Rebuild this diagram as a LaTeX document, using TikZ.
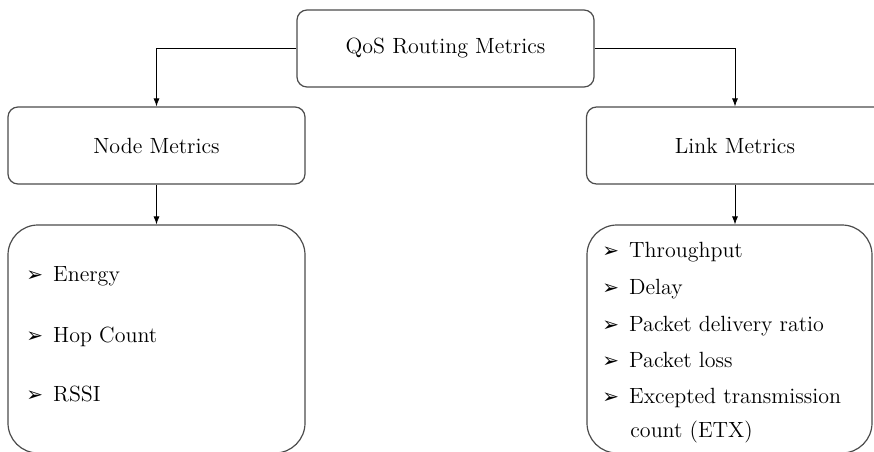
\documentclass[tikz,border=0pt]{standalone}
\usepackage{fontspec}
\usetikzlibrary{arrows.meta,positioning}
\newfontfamily\dingfont{DejaVu Sans}
\newcommand{\itemmark}{{\dingfont\fontsize{10}{12}\selectfont ➢}\hspace{5pt}}

\begin{document}
\begin{tikzpicture}[x=0.5pt,y=-0.5pt,font=\fontsize{11}{13}\selectfont,
    box/.style={draw=black!70,line width=0.6pt,rounded corners=5pt,
      minimum width=148.5pt,minimum height=38.5pt,inner sep=0pt},
    listbox/.style={draw=black!70,line width=0.6pt,rounded corners=15pt,
      minimum height=114pt,inner sep=0pt},
    item/.style={anchor=base west,inner sep=0pt},
    conn/.style={-{Latex[length=4pt,width=3pt]},line width=0.4pt}]
    \useasboundingbox (0,0) rectangle (874,451);
    % upper level
    \node[box] (qos) at (445.5,48.5) {QoS Routing Metrics};
    \node[box] (nm) at (156.5,145.5) {Node Metrics};
    \node[box] (lm) at (735,145.5) {Link Metrics};
    % lists
    \node[listbox,minimum width=148.5pt] (nl) at (156.5,339) {};
    \node[listbox,minimum width=142.5pt] (ll) at (729.5,339) {};
    \foreach \txt/\yy [count=\i] in {Energy/281,Hop Count/342,RSSI/401}
      \node[item] (nitem\i) at (26,\yy) {\itemmark\txt};
    \foreach \txt/\yy [count=\i] in {Throughput/257,Delay/294,
        Packet delivery ratio/331,Packet loss/367,Excepted transmission/403}
      \node[item] (litem\i) at (602,\yy) {\itemmark\txt};
    \node[item] (litem6) at (630,437) {count (ETX)};
    % connectors
    \draw[conn] (qos.west) -| (nm.north);
    \draw[conn] (qos.east) -| (lm.north);
    \draw[conn] (nm.south) -- (nl.north);
    \draw[conn] (lm.south) -- (lm.south |- ll.north);
  \end{tikzpicture}
\end{document}
